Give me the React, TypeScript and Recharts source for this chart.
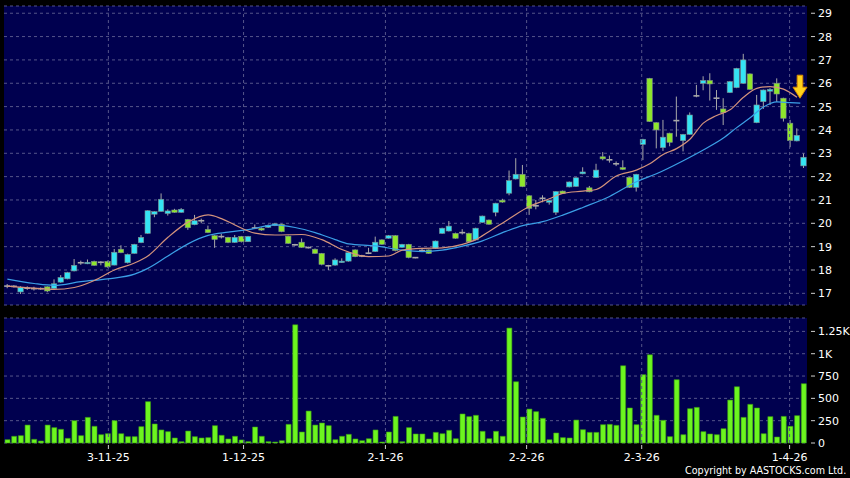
import React from "react";
import {
  ComposedChart,
  Bar,
  Line,
  XAxis,
  YAxis,
  CartesianGrid,
  ReferenceLine,
  ReferenceDot,
} from "recharts";

// daily candles, oldest first
const opens = [
  17.31, 17.3, 17.06, 17.22, 17.2, 17.2, 17.28, 17.21, 17.48, 17.62,
  17.96, 18.31, 18.28, 18.37, 18.33, 18.37, 18.21, 18.89, 18.31, 18.71,
  19.17, 19.57, 20.39, 20.51, 20.42, 20.57, 20.47, 20.17, 19.94, 20.11,
  19.74, 19.47, 19.43, 19.4, 19.18, 19.44, 19.21, 19.8, 19.79, 19.83,
  19.9, 19.96, 19.45, 19.08, 19.19, 18.96, 18.89, 18.71, 18.18, 18.21,
  18.33, 18.38, 18.86, 18.6, 18.72, 18.79, 19.29, 19.36, 19.47, 18.97,
  19.1, 18.53, 18.83, 18.86, 18.93, 19.57, 19.67, 19.57, 19.6, 19.57,
  19.29, 20.04, 20.14, 20.47, 20.99, 21.29, 21.9, 22.1, 21.18, 20.75,
  21.07, 20.9, 20.47, 21.38, 21.56, 21.58, 22.12, 21.52, 21.96, 22.85,
  22.72, 22.55, 22.39, 21.97, 21.54, 23.38, 26.21, 24.31, 23.24, 23.86,
  24.4, 23.54, 23.81, 25.46, 26.0, 26.12, 25.36, 24.9, 25.6, 25.81,
  26.0, 26.4, 24.31, 25.21, 25.66, 26.0, 25.36, 24.29, 23.53, 22.46,
];
const highs = [
  17.4, 17.35, 17.3, 17.3, 17.28, 17.25, 17.3, 17.6, 17.78, 17.92,
  18.47, 18.4, 18.45, 18.4, 18.38, 18.4, 18.9, 19.06, 18.7, 19.12,
  19.5, 20.56, 20.52, 21.28, 20.6, 20.62, 20.65, 20.19, 20.36, 20.2,
  19.9, 19.5, 19.55, 19.42, 19.5, 19.46, 19.46, 19.95, 19.82, 19.95,
  20.0, 19.98, 19.47, 19.12, 19.35, 19.0, 18.92, 18.73, 18.22, 18.5,
  18.5, 18.76, 18.88, 18.65, 18.95, 19.43, 19.31, 19.5, 19.5, 19.12,
  19.12, 18.55, 18.95, 18.88, 19.26, 19.81, 20.1, 19.6, 19.75, 19.6,
  19.81, 20.33, 20.16, 20.88, 21.05, 22.26, 22.79, 22.5, 21.2, 21.0,
  21.2, 21.0, 21.38, 21.4, 21.79, 21.97, 22.4, 21.6, 22.55, 23.05,
  22.9, 22.65, 22.7, 21.99, 22.12, 23.62, 26.23, 24.33, 24.43, 23.88,
  25.43, 23.83, 24.75, 25.93, 26.3, 26.43, 25.71, 25.36, 26.1, 26.66,
  27.26, 26.42, 25.5, 25.73, 25.79, 26.21, 25.38, 24.43, 24.07, 22.99,
];
const lows = [
  17.22, 17.25, 16.97, 17.15, 17.12, 17.15, 17.05, 17.2, 17.45, 17.6,
  17.94, 18.22, 18.25, 18.18, 18.2, 18.1, 18.2, 18.72, 18.28, 18.7,
  19.15, 19.55, 20.26, 20.5, 20.33, 20.45, 20.45, 19.72, 19.92, 20.0,
  19.58, 18.95, 19.35, 19.15, 19.16, 19.18, 19.2, 19.75, 19.68, 19.8,
  19.88, 19.62, 19.12, 19.04, 18.95, 18.92, 18.69, 18.2, 18.0, 18.18,
  18.3, 18.36, 18.55, 18.55, 18.68, 18.77, 19.08, 19.34, 18.8, 18.95,
  18.5, 18.5, 18.78, 18.69, 18.91, 19.55, 19.65, 19.34, 19.52, 19.19,
  19.27, 20.02, 19.94, 20.3, 20.88, 21.2, 21.88, 21.55, 20.36, 20.6,
  20.9, 20.8, 20.36, 21.26, 21.54, 21.56, 22.1, 21.33, 21.94, 22.7,
  22.6, 22.45, 22.28, 21.52, 21.36, 22.71, 24.34, 23.21, 23.1, 23.3,
  23.71, 23.08, 23.79, 25.4, 25.7, 25.26, 24.86, 24.21, 25.58, 25.79,
  25.98, 25.72, 24.29, 24.9, 25.07, 25.2, 24.36, 23.26, 23.51, 22.37,
];
const closes = [
  17.31, 17.3, 17.26, 17.22, 17.2, 17.2, 17.1, 17.41, 17.68, 17.89,
  18.2, 18.31, 18.33, 18.2, 18.33, 18.13, 18.76, 18.74, 18.67, 19.1,
  19.4, 20.54, 20.5, 21.03, 20.53, 20.47, 20.6, 19.81, 20.11, 20.11,
  19.6, 19.31, 19.43, 19.18, 19.4, 19.21, 19.44, 19.8, 19.71, 19.91,
  19.98, 19.64, 19.14, 19.08, 18.97, 18.96, 18.71, 18.24, 18.18, 18.43,
  18.38, 18.74, 18.57, 18.6, 18.72, 19.19, 19.1, 19.47, 18.83, 19.1,
  18.53, 18.53, 18.83, 18.71, 19.24, 19.79, 19.88, 19.36, 19.6, 19.21,
  19.79, 20.31, 19.96, 20.86, 20.91, 21.83, 22.1, 21.57, 20.64, 20.75,
  21.07, 20.98, 21.36, 21.28, 21.77, 21.95, 22.2, 21.35, 22.28, 22.76,
  22.72, 22.55, 22.31, 21.54, 22.1, 23.6, 24.36, 24.0, 23.69, 23.47,
  24.4, 23.81, 24.64, 25.46, 26.12, 25.97, 25.36, 24.74, 26.07, 26.64,
  27.0, 25.74, 25.07, 25.71, 25.74, 25.54, 24.5, 23.54, 23.77, 22.83,
];
// turnover, thousands
const volumes = [
  37, 75, 82, 201, 41, 22, 201, 172, 153, 52,
  250, 82, 287, 187, 93, 104, 250, 104, 71, 71,
  183, 463, 213, 146, 127, 56, 15, 134, 71, 56,
  60, 194, 86, 45, 75, 34, 15, 179, 75, 15,
  11, 26, 209, 1324, 123, 358, 201, 224, 194, 37,
  75, 97, 45, 26, 48, 146, 11, 123, 298, 15,
  172, 101, 101, 45, 119, 104, 142, 48, 325, 295,
  310, 131, 48, 131, 75, 1287, 686, 291, 380, 351,
  276, 37, 112, 60, 56, 257, 149, 119, 119, 205,
  209, 198, 865, 392, 205, 765, 988, 310, 254, 71,
  709, 93, 384, 399, 127, 101, 93, 160, 481, 630,
  287, 433, 392, 104, 295, 67, 298, 187, 306, 664,
];

// moving averages: [bar index, value]
const ma10Points: [number, number][] = [
  [0, 17.31], [4, 17.22], [7, 17.17], [10, 17.25], [13, 17.55], [16, 18.0],
  [19, 18.3], [21, 18.6], [24, 19.4], [27, 20.05], [30, 20.36], [32, 20.2],
  [34, 19.93], [37, 19.58], [40, 19.5], [44, 19.52], [47, 19.3], [50, 18.88],
  [54, 18.57], [57, 18.6], [59, 18.85], [62, 18.93], [65, 18.95], [68, 19.1],
  [70, 19.3], [72, 19.65], [75, 20.2], [78, 20.72], [81, 21.05], [83, 21.28],
  [86, 21.38], [88, 21.45], [91, 22.03], [94, 22.28], [96, 22.55], [98, 22.95],
  [100, 23.2], [102, 23.6], [104, 24.29], [106, 24.62], [108, 24.86],
  [110, 25.4], [112, 25.78], [114, 25.86], [116, 25.75], [118, 25.4],
];
const ma20Points: [number, number][] = [
  [0, 17.61], [4, 17.42], [7, 17.34], [11, 17.5], [15, 17.62], [19, 17.82],
  [21, 18.07], [24, 18.6], [27, 19.12], [30, 19.48], [33, 19.62], [36, 19.73],
  [40, 19.93], [43, 19.82], [46, 19.6], [49, 19.3], [51, 19.12], [55, 19.03],
  [59, 18.85], [62, 18.79], [65, 18.85], [68, 19.02], [71, 19.25], [74, 19.6],
  [77, 19.9], [80, 20.07], [83, 20.35], [86, 20.68], [90, 21.15], [94, 21.78],
  [97, 22.12], [101, 22.68], [104, 23.14], [107, 23.65], [109, 24.1],
  [111, 24.52], [113, 24.98], [115, 25.2], [117, 25.17], [118.5, 25.15],
];

const dateTicks = [15.1, 35.3, 56.5, 77.6, 94.8, 116.9];
const dateLabels = ["3-11-25", "1-12-25", "2-1-26", "2-2-26", "2-3-26", "1-4-26"];
const priceTicks = [17, 18, 19, 20, 21, 22, 23, 24, 25, 26, 27, 28, 29];
const volTicks = [0, 250, 500, 750, 1000, 1250];
const volLabels = ["0", "250", "500", "750", "1K", "1.25K"];
const signal = { at: 118.45, price: 25.36 };

type Row = {
  i: number;
  open: number;
  high: number;
  low: number;
  close: number;
  range: [number, number];
  vol: number;
};

const rows: Row[] = opens.map((o, i) => ({
  i,
  open: o,
  high: highs[i],
  low: lows[i],
  close: closes[i],
  range: [lows[i], highs[i]],
  vol: volumes[i],
}));
const maRows = [
  ...ma10Points.map(([i, v]) => ({ i, ma10: v })),
  ...ma20Points.map(([i, v]) => ({ i, ma20: v })),
].sort((a, b) => a.i - b.i);

const BG = "#00004f";
const GRID = "#55558a";
const CYAN = "#34e4f4";
const LIME = "#8ee62c";
const GREY = "#a8a8a8";
const FONT = "DejaVu Sans, sans-serif";

const Candle = (props: any) => {
  const { x, y, width, height, payload } = props;
  const { open, close, high, low } = payload as Row;
  const top = Math.min(y, y + height);
  const h = Math.abs(height);
  const py = (v: number) => top + ((high - v) / (high - low)) * h;
  const cx = x + width / 2;
  const bTop = py(Math.max(open, close));
  const bBot = py(Math.min(open, close));
  if (open === close) {
    return (
      <g>
        <line x1={cx} x2={cx} y1={top} y2={top + h} stroke={GREY} />
        <line x1={cx - 3} x2={cx + 3} y1={bTop} y2={bTop} stroke={GREY} strokeWidth={1.6} />
      </g>
    );
  }
  return (
    <g>
      <line x1={cx} x2={cx} y1={top} y2={top + h} stroke={GREY} />
      <rect
        x={cx - 2.7}
        y={bTop}
        width={5.4}
        height={Math.max(1.5, bBot - bTop)}
        fill={close > open ? CYAN : LIME}
        stroke="#7c8c8c"
        strokeWidth={0.6}
      />
    </g>
  );
};

const RightTick = (props: any) => {
  const { x, y, payload, labels, ticks } = props;
  const text = labels ? labels[ticks.indexOf(payload.value)] : String(payload.value);
  return (
    <g>
      <line x1={x + 4} x2={x + 8} y1={y} y2={y} stroke="#cfcfcf" />
      <text x={x + 11} y={y} dy={4} fill="#fff" fontSize={11} fontFamily={FONT}>
        {text}
      </text>
    </g>
  );
};

const DateTick = (props: any) => {
  const { x, y, payload } = props;
  const label = dateLabels[dateTicks.indexOf(payload.value)];
  return (
    <g>
      <line x1={x} x2={x} y1={y + 2} y2={y + 6} stroke="#cfcfcf" />
      <text x={x} y={y + 17.5} textAnchor="middle" fill="#fff" fontSize={11} fontFamily={FONT}>
        {label}
      </text>
    </g>
  );
};

const Arrow = (props: any) => {
  const { cx, cy } = props;
  const pts = [
    [cx - 2.8, cy - 23],
    [cx + 2.8, cy - 23],
    [cx + 2.8, cy - 11],
    [cx + 7, cy - 11],
    [cx, cy],
    [cx - 7, cy - 11],
    [cx - 2.8, cy - 11],
  ]
    .map((p) => p.join(","))
    .join(" ");
  return <polygon points={pts} fill="#ffd21a" stroke="#d98a00" strokeWidth={1} />;
};

export default function App() {
  return (
    <div
      style={{
        position: "fixed",
        left: 0,
        top: 0,
        width: 850,
        height: 478,
        background: "#000",
        fontFamily: FONT,
        overflow: "hidden",
      }}
    >
      <div style={{ position: "absolute", left: 0, top: 0 }}>
        <ComposedChart width={850} height={312} data={rows} margin={{ top: 6, right: 0, bottom: 7, left: 4 }}>
          <CartesianGrid vertical={false} stroke={GRID} strokeDasharray="3 3" fill={BG} fillOpacity={1} />
          <XAxis dataKey="i" type="number" domain={[-0.5, 119.5]} hide />
          <YAxis
            orientation="right"
            width={43}
            domain={[16.5, 29.31]}
            ticks={priceTicks}
            interval={0}
            axisLine={false}
            tickLine={false}
            tickSize={0}
            tickMargin={0}
            tick={<RightTick />}
          />
          {dateTicks.map((t) => (
            <ReferenceLine key={t} x={t} stroke={GRID} strokeDasharray="3 3" />
          ))}
          <Bar dataKey="range" barSize={6} shape={<Candle />} isAnimationActive={false} />
          <Line
            data={maRows}
            dataKey="ma20"
            type="monotone"
            stroke="#3b9fe6"
            strokeWidth={1.2}
            dot={false}
            connectNulls
            isAnimationActive={false}
          />
          <Line
            data={maRows}
            dataKey="ma10"
            type="monotone"
            stroke="#d4937c"
            strokeWidth={1.2}
            dot={false}
            connectNulls
            isAnimationActive={false}
          />
          <ReferenceDot x={signal.at} y={signal.price} r={0} shape={<Arrow />} />
        </ComposedChart>
      </div>
      <div style={{ position: "absolute", left: 0, top: 312 }}>
        <ComposedChart width={850} height={166} data={rows} margin={{ top: 6, right: 0, bottom: 10, left: 4 }}>
          <CartesianGrid vertical={false} stroke={GRID} strokeDasharray="3 3" fill={BG} fillOpacity={1} />
          <XAxis
            dataKey="i"
            type="number"
            domain={[-0.5, 119.5]}
            ticks={dateTicks}
            interval={0}
            height={25}
            axisLine={false}
            tickLine={false}
            tickSize={0}
            tickMargin={0}
            tick={<DateTick />}
          />
          <YAxis
            orientation="right"
            width={43}
            domain={[0, 1400]}
            ticks={volTicks}
            interval={0}
            axisLine={false}
            tickLine={false}
            tickSize={0}
            tickMargin={0}
            tick={<RightTick labels={volLabels} ticks={volTicks} />}
          />
          {dateTicks.map((t) => (
            <ReferenceLine key={t} x={t} stroke={GRID} strokeDasharray="3 3" />
          ))}
          <Bar dataKey="vol" barSize={5} fill="#6cf51f" stroke="#3a9a12" strokeWidth={0.6} isAnimationActive={false} />
        </ComposedChart>
      </div>
      <div
        style={{
          position: "absolute",
          right: 4,
          top: 465,
          color: "#fff",
          fontSize: 11,
          lineHeight: "12px",
          whiteSpace: "nowrap",
          transform: "scaleX(0.87)",
          transformOrigin: "right center",
        }}
      >
        Copyright by AASTOCKS.com Ltd.
      </div>
    </div>
  );
}
